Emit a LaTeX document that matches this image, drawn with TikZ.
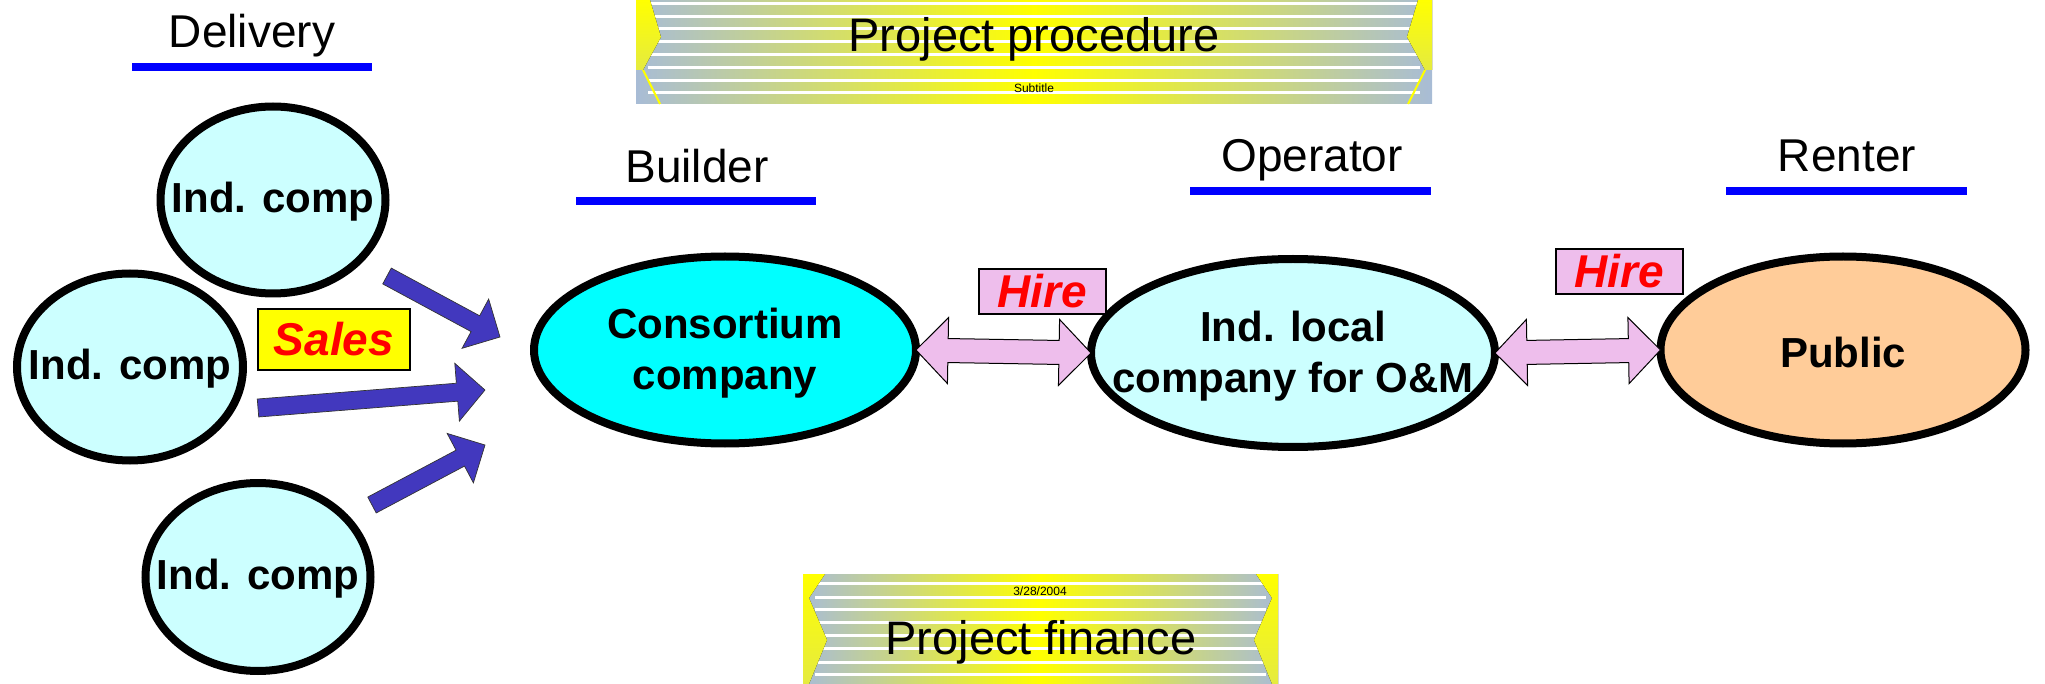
\documentclass[tikz,border=0pt]{standalone}
\usepackage{fontspec}
\setmainfont{Liberation Sans}
\usetikzlibrary{shapes.geometric,calc}
\definecolor{lightcyan}{RGB}{204,255,255}
\definecolor{aqua}{RGB}{0,255,255}
\definecolor{peach}{RGB}{255,204,153}
\definecolor{lilac}{RGB}{238,190,236}
\definecolor{arrowblue}{RGB}{66,56,190}
\definecolor{ulblue}{RGB}{0,0,255}
\definecolor{bgrey}{RGB}{168,188,214}
\definecolor{byellow}{RGB}{255,255,0}

\newcommand\fatarrow[6]{%
  \path (#2); \pgfgetlastxy{\faAx}{\faAy}%
  \path (#3); \pgfgetlastxy{\faBx}{\faBy}%
  \pgfmathsetmacro\faAng{atan2(\faBy-\faAy,\faBx-\faAx)}%
  \pgfmathsetmacro\faLen{veclen(\faBx-\faAx,\faBy-\faAy)}%
  \pgfmathsetmacro\faBase{\faLen-#6}%
  \draw[#1,shift={(\faAx,\faAy)},rotate=\faAng]
    (0pt,#4pt) -- (\faBase pt,#4pt) -- (\faBase pt,#5pt) -- (\faLen pt,0pt)
    -- (\faBase pt,-#5pt) -- (\faBase pt,-#4pt) -- (0pt,-#4pt) -- cycle;
}
\newcommand\dblarrow[6]{%
  \path (#2); \pgfgetlastxy{\faAx}{\faAy}%
  \path (#3); \pgfgetlastxy{\faBx}{\faBy}%
  \pgfmathsetmacro\faAng{atan2(\faBy-\faAy,\faBx-\faAx)}%
  \pgfmathsetmacro\faLen{veclen(\faBx-\faAx,\faBy-\faAy)}%
  \pgfmathsetmacro\faBase{\faLen-#6}%
  \draw[#1,shift={(\faAx,\faAy)},rotate=\faAng]
    (0pt,0pt) -- (#6pt,#5pt) -- (#6pt,#4pt) -- (\faBase pt,#4pt) -- (\faBase pt,#5pt)
    -- (\faLen pt,0pt) -- (\faBase pt,-#5pt) -- (\faBase pt,-#4pt) -- (#6pt,-#4pt)
    -- (#6pt,-#5pt) -- cycle;
}

\begin{document}
\begin{tikzpicture}[x=1pt,y=-1pt,
  ell/.style={ellipse, draw=black, line width=8pt, inner sep=0pt, outer sep=0pt},
  lbl/.style={font=\fontsize{42}{51}\selectfont\bfseries, align=center, text=black, inner sep=0pt},
  role/.style={font=\fontsize{46}{55}\selectfont, anchor=base, inner sep=0pt},
  uline/.style={draw=ulblue, line width=8pt},
  tag/.style={draw=black, line width=1.5pt, font=\fontsize{46}{55}\selectfont\bfseries\itshape,
    text=red, inner sep=0pt},
  bluearr/.style={fill=arrowblue, draw=black!80, line width=0.7pt},
  pinkarr/.style={fill=lilac, draw=black, line width=1pt},
  stripe/.style={white, line width=3pt},
  chev/.style={top color=byellow, bottom color=byellow!70!bgrey, draw=none},
  bannertitle/.style={font=\fontsize{47}{56}\selectfont, anchor=base, inner sep=0pt},
  small/.style={font=\fontsize{12}{14}\selectfont, inner sep=0pt}
]
\useasboundingbox (0,0) rectangle (2045,684);

% ---- Project procedure banner
\shade[left color=bgrey, right color=bgrey, middle color=byellow] (636,0) rectangle (1432,104);
\foreach \yy in {4,17,29,42,55,68,81,93} \draw[stripe] (648,\yy) -- (1420,\yy);
\fill[chev] (636,0) -- (650,0) -- (661,37) -- (643,70) -- (636,70) -- cycle;
\fill[chev] (1432,0) -- (1418,0) -- (1407,37) -- (1425,70) -- (1432,70) -- cycle;
\draw[byellow, line width=2pt] (643,70) -- (660,104);
\draw[byellow, line width=2pt] (1425,70) -- (1408,104);
\node[bannertitle] (proc) at (1034,52) {Project procedure};
\node[small] (sub) at (1034,88) {Subtitle};

% ---- Project finance banner
\shade[left color=bgrey, right color=bgrey, middle color=byellow] (803,574) rectangle (1278,684);
\foreach \yy in {583,597,609,622,635,648,662,674} \draw[stripe] (815,\yy) -- (1266,\yy);
\fill[chev] (803,574) -- (825,574) -- (809,598) -- (827,640) -- (809,684) -- (803,684) -- cycle;
\fill[chev] (1278,574) -- (1256,574) -- (1272,598) -- (1254,640) -- (1272,684) -- (1278,684) -- cycle;
\node[small] (date) at (1040,591) {3/28/2004};
\node[bannertitle] (fin) at (1041,654) {Project finance};

% ---- role headings
\node[role] (delivery) at (252,48) {Delivery};
\draw[uline] (132,67.5) -- (372,67.5);
\node[role] (builder) at (697,183) {Builder};
\draw[uline] (576,201) -- (816,201);
\node[role] (operator) at (1312,172) {Operator};
\draw[uline] (1190,191) -- (1431,191);
\node[role] (renter) at (1847,172) {Renter};
\draw[uline] (1726,191) -- (1967,191);

% ---- ellipses
\node[ell, fill=lightcyan, minimum width=225pt, minimum height=187pt] (ic1) at (273,200) {};
\node[ell, fill=lightcyan, minimum width=226pt, minimum height=187pt] (ic2) at (130,367) {};
\node[ell, fill=lightcyan, minimum width=225pt, minimum height=188pt] (ic3) at (258,577) {};
\node[ell, fill=aqua, minimum width=382pt, minimum height=187pt] (cons) at (725,350) {};
\node[ell, fill=lightcyan, minimum width=404pt, minimum height=188pt] (local) at (1293,353) {};
\node[ell, fill=peach, minimum width=365pt, minimum height=187pt] (public) at (1843,350) {};

\node[lbl] (ic1t) at ([yshift=-2pt]ic1.center) {Ind. comp};
\node[lbl] (ic2t) at ([yshift=-2pt]ic2.center) {Ind. comp};
\node[lbl] (ic3t) at ([yshift=-2pt]ic3.center) {Ind. comp};
\node[lbl] (const) at ([yshift=-3pt]cons.center) {Consortium\\company};
\node[lbl] (localt) at ([yshift=-3pt]local.center) {Ind. local\\company for O\&M};
\node[lbl] (publict) at ([yshift=-2pt]public.center) {Public};

% ---- tags
\node[tag, fill=byellow, minimum width=152pt, minimum height=61pt] (sales) at (334,339.5) {Sales};
\node[tag, fill=lilac, minimum width=127pt, minimum height=45pt] (hire1) at (1042.5,291.5) {Hire};
\node[tag, fill=lilac, minimum width=127pt, minimum height=45pt] (hire2) at (1619.5,271.5) {Hire};

% ---- blue arrows
\coordinate (b1s) at (387,276); \coordinate (b1e) at (500,337);
\coordinate (b2s) at (258,408); \coordinate (b2e) at (485,390);
\coordinate (b3s) at (372,505); \coordinate (b3e) at (485,445);
\fatarrow{bluearr}{b1s}{b1e}{9}{28}{28}
\fatarrow{bluearr}{b2s}{b2e}{9}{29}{28}
\fatarrow{bluearr}{b3s}{b3e}{9}{28}{28}

% ---- pink double arrows
\dblarrow{pinkarr}{cons.east}{local.west}{12}{33}{32}
\dblarrow{pinkarr}{local.east}{public.west}{12}{33}{32}
\end{tikzpicture}
\end{document}
